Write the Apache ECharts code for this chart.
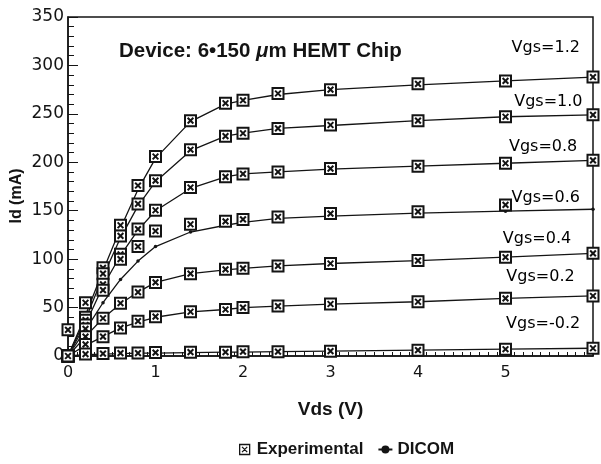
<!DOCTYPE html>
<html><head><meta charset="utf-8">
<script src="https://cdn.jsdelivr.net/npm/echarts@6/dist/echarts.min.js"></script>
<style>html,body{margin:0;padding:0;background:#fff}#c{width:601px;height:464px}</style>
</head><body><div id="c"></div>
<script>
// ---- data ----
const vds = [0, 0.2, 0.4, 0.6, 0.8, 1.0, 1.4, 1.8, 2.0, 2.4, 3, 4, 5, 6];
const xTickLabels = ['0', '1', '2', '3', '4', '5', ''];
const yTickLabels = ['0', '50', '100', '150', '200', '250', '300', '350'];

const exp12 = [0, 40, 91, 135, 176, 206, 243, 261, 264, 271, 275, 281, 284, 288];
const exp10 = [0, 37, 85, 124, 157, 181, 213, 227, 230, 235, 238.5, 243, 247, 249];
const exp08 = [0, 32, 74, 105, 131, 150.5, 174, 185, 188, 190, 193.5, 196, 199, 202];
const exp06 = [0, 28, 68, 100, 113, 129, 136, 139, 141, 143.5, 147, 149, 156, null];
const exp04 = [0, 20, 39, 54.5, 66, 76, 85, 89.5, 90.5, 93, 95.5, 98.5, 102, 106];
const exp02 = [0, 12, 20, 29, 36, 40.6, 45.7, 48, 50, 51.5, 53.7, 56, 59.5, 62];
const expM02 = [0, 2, 2.5, 3, 3, 3.5, 4, 4, 4.5, 4.5, 5, 6, 7, 8];
const expExtraX = [0, 0.2];
const expExtraY = [27, 55];

const dic12 = [0, 42, 88, 132, 172, 204, 242, 260, 264, 270, 275, 280, 284, 288];
const dic10 = [0, 38, 82, 122, 155, 180, 212, 227, 230, 235, 238, 243, 247, 249];
const dic08 = [0, 33, 72, 104, 130, 150, 173, 185, 188, 190, 193, 196, 199, 202];
const dic06 = [0, 27, 55, 79, 98, 113, 128, 135, 138, 142, 144.5, 147.5, 149.5, 151.5];
const dic04 = [0, 20, 39, 54, 66, 76, 85, 89, 90.5, 93, 95.5, 98.5, 102, 106];
const dic02 = [0, 11, 20, 29, 35, 40, 45.5, 48, 50, 51.5, 53.5, 56, 59.5, 62];
const dicM02 = [0, 1.5, 2, 2.5, 3, 3, 3.5, 4, 4, 4.5, 5, 6, 7, 8];

const curveNames = ['Vgs=1.2', 'Vgs=1.0', 'Vgs=0.8', 'Vgs=0.6', 'Vgs=0.4', 'Vgs=0.2', 'Vgs=-0.2'];
const curveLabelX = [5.46, 5.49, 5.43, 5.46, 5.36, 5.40, 5.43];
const curveLabelY = [318, 262, 216, 163, 121, 81.5, 33];

// ---- chart ----
const ink = '#141414';
const font = 'DejaVu Sans';
const boldFont = 'Liberation Sans';
const expSymbol = 'path://M0,0H10V10H0Z M2.4,2.4L7.6,7.6 M7.6,2.4L2.4,7.6';

const expSets = [exp12, exp10, exp08, exp06, exp04, exp02, expM02];
const dicSets = [dic12, dic10, dic08, dic06, dic04, dic02, dicM02];

const pairs = (arr) => vds.map((x, i) => arr[i] == null ? null : [x, arr[i]]).filter(p => p);
const expStyle = { color: '#fff', borderColor: ink, borderWidth: 2, opacity: 1 };

const series = [];
dicSets.forEach((arr) => {
  series.push({
    name: 'DICOM', type: 'line', data: pairs(arr),
    symbol: 'circle', symbolSize: 3.5, showSymbol: true,
    lineStyle: { color: ink, width: 1.3 },
    itemStyle: { color: ink },
    z: 2, silent: true, animation: false
  });
});
expSets.forEach((arr) => {
  series.push({
    name: 'Experimental', type: 'scatter', data: pairs(arr),
    symbol: expSymbol, symbolSize: 11, itemStyle: expStyle,
    z: 3, silent: true, animation: false
  });
});
series.push({
  name: 'Experimental', type: 'scatter',
  data: expExtraX.map((x, i) => [x, expExtraY[i]]),
  symbol: expSymbol, symbolSize: 11, itemStyle: expStyle,
  z: 3, silent: true, animation: false
});
series.push({
  name: 'labels', type: 'scatter', symbolSize: 0,
  itemStyle: { opacity: 1 },
  data: curveNames.map((n, i) => ({ name: n, value: [curveLabelX[i], curveLabelY[i]] })),
  label: { show: true, position: 'inside', formatter: '{b}', color: '#000', fontFamily: font, fontSize: 16 },
  silent: true, animation: false, z: 4
});

const chart = echarts.init(document.getElementById('c'), null, { renderer: 'canvas' });
chart.setOption({
  backgroundColor: '#fff',
  animation: false,
  grid: { left: 68, right: 8, top: 17, bottom: 108, show: true, borderColor: ink, borderWidth: 1.5, backgroundColor: 'transparent' },
  title: {
    text: 'Device: 6\u2022150 {i|\u03bc}m HEMT Chip',
    left: 114, top: 36,
    textStyle: {
      fontFamily: boldFont, fontWeight: 'bold', fontSize: 20.5, color: ink,
      rich: { i: { fontFamily: boldFont, fontWeight: 'bold', fontStyle: 'italic', fontSize: 20.5, color: ink } }
    }
  },
  legend: {
    data: [
      { name: 'Experimental', icon: expSymbol, itemStyle: { color: '#fff', borderColor: ink, borderWidth: 1.3 } },
      { name: 'DICOM' }
    ],
    left: 234, top: 436, itemWidth: 14, itemHeight: 10, itemGap: 14,
    textStyle: { fontFamily: boldFont, fontWeight: 'bold', fontSize: 17, color: ink },
    selectedMode: false
  },
  xAxis: {
    type: 'value', min: 0, max: 6, interval: 1,
    name: 'Vds (V)', nameLocation: 'middle', nameGap: 44,
    nameTextStyle: { fontFamily: boldFont, fontWeight: 'bold', fontSize: 19, color: ink },
    axisLine: { lineStyle: { color: ink, width: 1.5 } },
    axisTick: { inside: true, length: 8, lineStyle: { color: ink } },
    minorTick: { show: true, splitNumber: 10, length: 4, lineStyle: { color: ink } },
    splitLine: { show: false },
    axisLabel: { fontFamily: font, fontSize: 16, color: ink, margin: 9,
      formatter: (v) => xTickLabels[Math.round(v)] }
  },
  yAxis: {
    type: 'value', min: 0, max: 350, interval: 50,
    axisLine: { lineStyle: { color: ink, width: 1.5 } },
    axisTick: { inside: true, length: 10, lineStyle: { color: ink } },
    minorTick: { show: true, splitNumber: 5, length: 6, lineStyle: { color: ink } },
    splitLine: { show: false },
    axisLabel: { fontFamily: font, fontSize: 17, color: ink, margin: 4,
      formatter: (v) => yTickLabels[Math.round(v / 50)] }
  },
  graphic: [{
    type: 'text', x: 17, y: 196, rotation: Math.PI / 2,
    style: { text: 'Id (mA)', fontFamily: boldFont, fontWeight: 'bold', fontSize: 16, fill: ink, align: 'center', verticalAlign: 'middle' }
  }],
  series: series
});
</script></body></html>
